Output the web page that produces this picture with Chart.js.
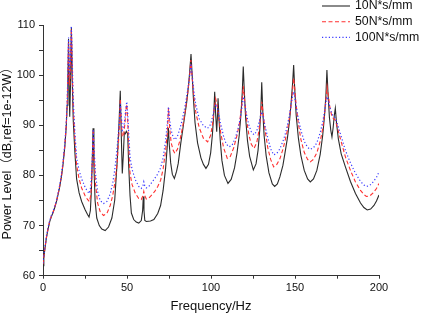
<!DOCTYPE html>
<html>
<head>
<meta charset="utf-8">
<script src="https://cdn.jsdelivr.net/npm/chart.js@4.4.1/dist/chart.umd.min.js"></script>
<style>
  html, body { margin: 0; padding: 0; background: #fff; }
</style>
</head>
<body>
<canvas id="power" width="423" height="316"></canvas>
<script>
// 10 N*s/mm
const f10 = [0, 0.5, 1, 2, 3, 4, 5, 6, 7, 8, 9, 10, 11, 12, 13, 13.8, 14.4, 14.8, 15.2, 15.6, 15.9, 16.3, 16.9, 17.4, 18, 19, 20, 21.5, 23, 25, 26.5, 27.4, 28.2, 28.8, 29.4, 29.8, 30.3, 31, 32, 33.5, 35, 37, 39, 41, 42.7, 44.2, 45.2, 46, 46.6, 47.2, 47.8, 48.4, 49, 49.6, 50.4, 51, 51.8, 52.6, 54, 55.5, 57, 58.5, 59.3, 59.7, 60.1, 60.6, 61.5, 64, 66, 68.3, 70, 71.5, 73, 74, 74.6, 75.2, 76, 77, 78.2, 79.5, 80.5, 82, 84, 85.5, 86.8, 87.5, 88.1, 88.7, 89.5, 90.5, 92, 94, 95.5, 97, 98.5, 99.8, 100.8, 101.6, 102.2, 102.8, 103.4, 103.8, 104.2, 104.8, 105.5, 106.5, 108, 110.1, 112, 114, 115.5, 116.8, 117.8, 118.6, 119.2, 119.8, 120.6, 121.7, 123, 125.2, 126.8, 128, 129, 129.7, 130.2, 130.8, 131.6, 132.8, 134.5, 136.5, 137.9, 139.5, 141, 142.8, 144, 145.5, 146.8, 147.8, 148.6, 149.2, 149.8, 150.7, 152, 153.5, 155.5, 157.5, 159.1, 161, 163, 165, 166.5, 167.6, 168.4, 169, 169.7, 170.5, 171.3, 172, 172.7, 173.4, 174, 174.7, 175.8, 177.5, 180, 183, 186, 189, 191, 193, 195, 197, 198.5, 200];
const db10 = [62.0, 63.5, 65.0, 67.5, 69.3, 70.8, 71.8, 72.6, 73.6, 74.8, 76.2, 77.8, 79.8, 82.4, 85.8, 89.5, 94, 99, 107.2, 97, 91.7, 97, 109.6, 99, 91, 84.5, 79.3, 76.5, 74.8, 73.2, 72.2, 71.7, 73, 77, 84, 89.4, 82, 75, 71.5, 70, 69.3, 69, 69.7, 71.5, 75.1, 83, 90, 96.9, 88, 80.4, 84, 88.5, 88.3, 88.8, 88.3, 82, 76, 72.5, 71.2, 70.7, 70.5, 71, 73, 75.8, 73, 71, 70.8, 70.9, 71.2, 72.4, 74, 77, 81.5, 86, 89.5, 86, 82.5, 80.2, 79.4, 80.8, 82.4, 86.4, 91, 94.5, 98.5, 101.5, 104.2, 100.5, 95.5, 90.5, 86.5, 83.5, 82.2, 81.4, 82.2, 84.5, 88, 92, 96.7, 92, 88.7, 91.5, 95.4, 91, 87, 83, 80, 78.4, 79.2, 81.5, 84.5, 88, 92, 96.5, 101.7, 97, 91.5, 87, 83.8, 81.1, 82.3, 85, 89, 93.5, 98.6, 93, 88, 84, 80.5, 78.3, 77.8, 78.3, 79.7, 82, 84.4, 87.5, 91, 95, 98.5, 102, 97.5, 92, 87.5, 84, 81, 79.3, 78.7, 79.3, 81, 84.2, 88, 92, 96, 101, 96, 91.5, 89, 87.7, 89.5, 92, 93.4, 90.5, 87.3, 84.3, 81.7, 78.8, 76.4, 74.5, 73.6, 73.1, 73.3, 74, 74.9, 76.1];

// 50 N*s/mm
const f50 = [0, 0.5, 1, 2, 3, 4, 5, 6, 7, 8, 9, 10, 11, 12, 13, 13.8, 14.4, 14.8, 15.2, 15.6, 15.9, 16.3, 16.9, 17.4, 18, 19, 20, 21.5, 23, 25, 26.5, 27.6, 28.4, 29, 29.5, 29.9, 30.4, 31.2, 32.5, 34, 36, 38, 40, 41.5, 42.7, 44, 45, 45.6, 46, 46.5, 47.2, 48, 48.8, 49.5, 49.9, 50.4, 51, 51.8, 53, 55, 57, 58.5, 59.5, 60, 60.5, 61.5, 63, 65, 66.5, 68.3, 70, 71.5, 73, 74, 74.7, 75.4, 76.3, 77.5, 78.5, 80, 81.5, 83, 84.5, 86, 87.2, 88, 88.8, 89.7, 91, 93, 95.5, 98, 99.8, 101, 102, 102.8, 103.7, 104.6, 105.8, 107.5, 109.7, 111.5, 113.5, 115.5, 117, 118.3, 119.2, 120, 121.2, 122.6, 124, 125.6, 127.2, 128.6, 129.6, 130.2, 131, 132.2, 133.8, 135.5, 137.3, 139.2, 141, 142.8, 144, 145.5, 146.8, 148, 148.7, 149.2, 149.8, 150.7, 152, 153.5, 155.5, 157.5, 159.1, 161, 163, 165, 166.6, 167.8, 168.6, 169.1, 169.8, 170.8, 172, 173, 174, 175.5, 177.5, 180, 183, 186, 189, 191, 192.5, 194.5, 196.5, 198.5, 200];
const db50 = [62.3, 63.8, 65.2, 67.6, 69.4, 70.9, 71.9, 72.7, 73.7, 74.9, 76.3, 78, 80, 82.6, 86, 89.8, 94.5, 99.5, 106.5, 100, 98, 101, 109.2, 101, 93.5, 87, 82, 79.3, 77.5, 76, 75.2, 74.8, 76, 79, 84, 89.2, 84, 78.5, 74.5, 72.8, 72, 72.4, 74, 76, 78.4, 82, 87, 91, 95.3, 91, 87.7, 88, 90.5, 93.5, 94.2, 91, 86, 80.4, 78.2, 76.4, 75.4, 75.2, 76, 76.8, 76, 75.3, 75.5, 76.2, 76.8, 77.8, 79, 81.3, 85, 88.5, 93.5, 89.5, 86.5, 85, 84.4, 85.2, 87, 89.5, 92.5, 96, 99.5, 103, 99.5, 96, 92.5, 89.5, 87.4, 86.7, 88, 90.5, 93.5, 95.3, 94, 91.5, 88.5, 85.5, 83.4, 83.8, 85.5, 88, 90.5, 94, 97.8, 95, 91, 88, 86.2, 85.4, 86.5, 89, 92, 94.7, 92.5, 89, 85.5, 83.2, 81.7, 82.2, 83.3, 85.2, 86.8, 89, 91.8, 95, 97.5, 99.4, 97.5, 94, 90.3, 87.2, 84.6, 83.2, 82.7, 83.2, 84.5, 86.8, 89.5, 93, 95.8, 97.7, 96, 93.5, 91.7, 91.3, 91, 89.2, 86.7, 83.7, 81, 78.7, 77, 76.2, 75.8, 75.9, 76.5, 77.4, 78.4];

// 100 N*s/mm
const f100 = [0, 0.5, 1, 2, 3, 4, 5, 6, 7, 8, 9, 10, 11, 12, 13, 13.8, 14.4, 14.8, 15.2, 15.6, 15.9, 16.3, 16.9, 17.4, 18, 19, 20, 21.5, 23, 25, 26.5, 27.5, 28.3, 29, 29.5, 29.9, 30.4, 31.2, 32.5, 34, 36, 38, 40, 41.5, 42.7, 44, 45, 45.7, 46, 46.6, 47.2, 48, 48.8, 49.5, 49.9, 50.4, 51, 51.8, 53, 55, 57, 58.5, 59.5, 60, 60.5, 61.5, 63, 65, 66.5, 68.3, 70, 71.5, 73, 74, 74.7, 75.4, 76.3, 77.5, 78.5, 80, 81.5, 83, 84.5, 86, 87.2, 88, 88.8, 89.7, 91, 93, 95.5, 98, 99.8, 101, 102, 102.9, 103.8, 104.7, 105.8, 107.5, 109, 110.7, 112.5, 114.3, 116, 117.5, 118.5, 119.2, 120, 121.2, 122.6, 124, 125.6, 127.2, 128.6, 129.6, 130.2, 131, 132.2, 133.8, 135.5, 137.3, 139.2, 141, 142.8, 144, 145.5, 146.8, 148, 148.7, 149.2, 149.8, 150.7, 152, 153.5, 155.5, 157.5, 159.1, 161, 163, 165, 166.6, 167.8, 168.6, 169.1, 169.8, 170.8, 172, 173, 174, 175.5, 177.5, 180, 183, 186, 189, 191, 192.5, 194.5, 196.5, 198.5, 200];
const db100 = [62.5, 64, 65.4, 67.8, 69.6, 71, 72, 72.8, 73.8, 75, 76.5, 78.2, 80.3, 83, 86.5, 90.3, 95, 100, 107.5, 102, 100, 103, 109.8, 103, 95, 88.5, 83.5, 81, 79.3, 77.7, 76.8, 76.4, 77.5, 80.5, 85, 89.2, 85.5, 80.5, 76.8, 75, 74.4, 74.8, 76.3, 78.5, 81.1, 85, 89, 92, 94.3, 92, 89, 89.5, 91.5, 94, 94.7, 92.5, 88.5, 83.7, 81.2, 79.1, 77.8, 77.4, 78, 78.7, 78, 77.5, 77.8, 78.7, 79.4, 80.3, 81.5, 83.5, 87, 90.3, 93.7, 91, 89, 87.6, 87.1, 87.8, 89.3, 91.3, 93.7, 96.8, 99.5, 102.3, 100, 97, 94, 91.3, 89.9, 89.4, 90.2, 91.8, 93.3, 94.2, 93.7, 92, 90.2, 87.8, 86.3, 85.7, 86, 87.3, 89.2, 91.5, 93.8, 95.7, 94.5, 92, 90, 88.7, 88.1, 88.8, 90.5, 92, 92.7, 91.8, 89.8, 87.5, 85.3, 84.1, 84.4, 85.3, 86.8, 88, 90, 92.3, 94.8, 96, 96.7, 95.8, 93.7, 91.3, 89, 86.8, 85.6, 85.2, 85.5, 86.5, 88.5, 90.8, 93.2, 95, 95.7, 95, 93.5, 92.2, 91.8, 91.5, 90, 87.8, 85, 82.5, 80.4, 78.8, 78.1, 77.8, 78, 78.7, 79.6, 80.7];

const seriesNames = ["10N*s/mm", "50N*s/mm", "100N*s/mm"];
const xTickLabels = [0, 50, 100, 150, 200];
const yTickLabels = [60, 70, 80, 90, 100, 110];

function toPoints(xs, ys) {
  return xs.map((x, i) => ({ x: x, y: ys[i] }));
}

const FONT = "'Liberation Sans', Arial, 'Noto Sans CJK SC', sans-serif";

// legend drawn over the plot, top right
const cornerLegend = {
  id: "cornerLegend",
  afterDraw(chart) {
    const ctx = chart.ctx;
    const rows = [6, 21.7, 37.3];
    ctx.save();
    chart.data.datasets.forEach((ds, i) => {
      const y = rows[i];
      ctx.beginPath();
      ctx.setLineDash(ds.borderDash || []);
      ctx.strokeStyle = ds.borderColor;
      ctx.lineWidth = ds.borderWidth;
      ctx.moveTo(322, y);
      ctx.lineTo(350, y);
      ctx.stroke();
      ctx.setLineDash([]);
      ctx.fillStyle = "#111";
      ctx.font = "12.3px " + FONT;
      ctx.textBaseline = "middle";
      ctx.textAlign = "left";
      ctx.fillText(ds.label, 355, y);
    });
    ctx.restore();
  },
};

const ctx = document.getElementById("power");
new Chart(ctx, {
  type: "line",
  data: {
    datasets: [
      {
        label: seriesNames[0],
        data: toPoints(f10, db10),
        borderColor: "#2b2b2b",
        borderWidth: 1.1,
        order: 3,
      },
      {
        label: seriesNames[1],
        data: toPoints(f50, db50),
        borderColor: "#ff3030",
        borderWidth: 1.1,
        borderDash: [4, 2.5],
        order: 2,
      },
      {
        label: seriesNames[2],
        data: toPoints(f100, db100),
        borderColor: "#3a3aff",
        borderWidth: 1.2,
        borderDash: [1.2, 2.2],
        order: 1,
      },
    ],
  },
  options: {
    responsive: false,
    animation: false,
    layout: {
      padding: { top: 25, right: 44, left: 0, bottom: 0 },
    },
    elements: {
      point: { radius: 0 },
      line: { tension: 0 },
    },
    plugins: {
      legend: { display: false },
      tooltip: { enabled: false },
    },
    scales: {
      x: {
        type: "linear",
        min: 0,
        max: 200,
        afterFit: function (scale) {
          scale.height = 40.3;
        },
        ticks: {
          stepSize: 25,
          autoSkip: false,
          maxRotation: 0,
          padding: 3,
          color: "#111",
          font: { family: FONT, size: 11 },
          callback: function (value) {
            return xTickLabels.includes(value) ? value : "";
          },
        },
        grid: {
          drawOnChartArea: false,
          drawTicks: true,
          tickLength: 3,
          color: "#333",
        },
        border: { display: true, color: "#333", width: 1 },
        title: {
          display: true,
          text: "Frequency/Hz",
          color: "#111",
          font: { family: FONT, size: 13 },
          padding: { top: 0, bottom: 1.5 },
        },
      },
      y: {
        min: 60,
        max: 110,
        afterFit: function (scale) {
          scale.width = 43;
        },
        ticks: {
          stepSize: 5,
          autoSkip: false,
          padding: 4,
          color: "#111",
          font: { family: FONT, size: 11 },
          callback: function (value) {
            return yTickLabels.includes(value) ? value : "";
          },
        },
        grid: {
          drawOnChartArea: false,
          drawTicks: true,
          tickLength: 4,
          color: "#333",
        },
        border: { display: true, color: "#333", width: 1 },
        title: {
          display: true,
          text: "Power Level（dB,ref=1e-12W）",
          color: "#111",
          font: { family: FONT, size: 12.5 },
          padding: { top: 0.5, bottom: 0 },
        },
      },
    },
  },
  plugins: [cornerLegend],
});
</script>
</body>
</html>
